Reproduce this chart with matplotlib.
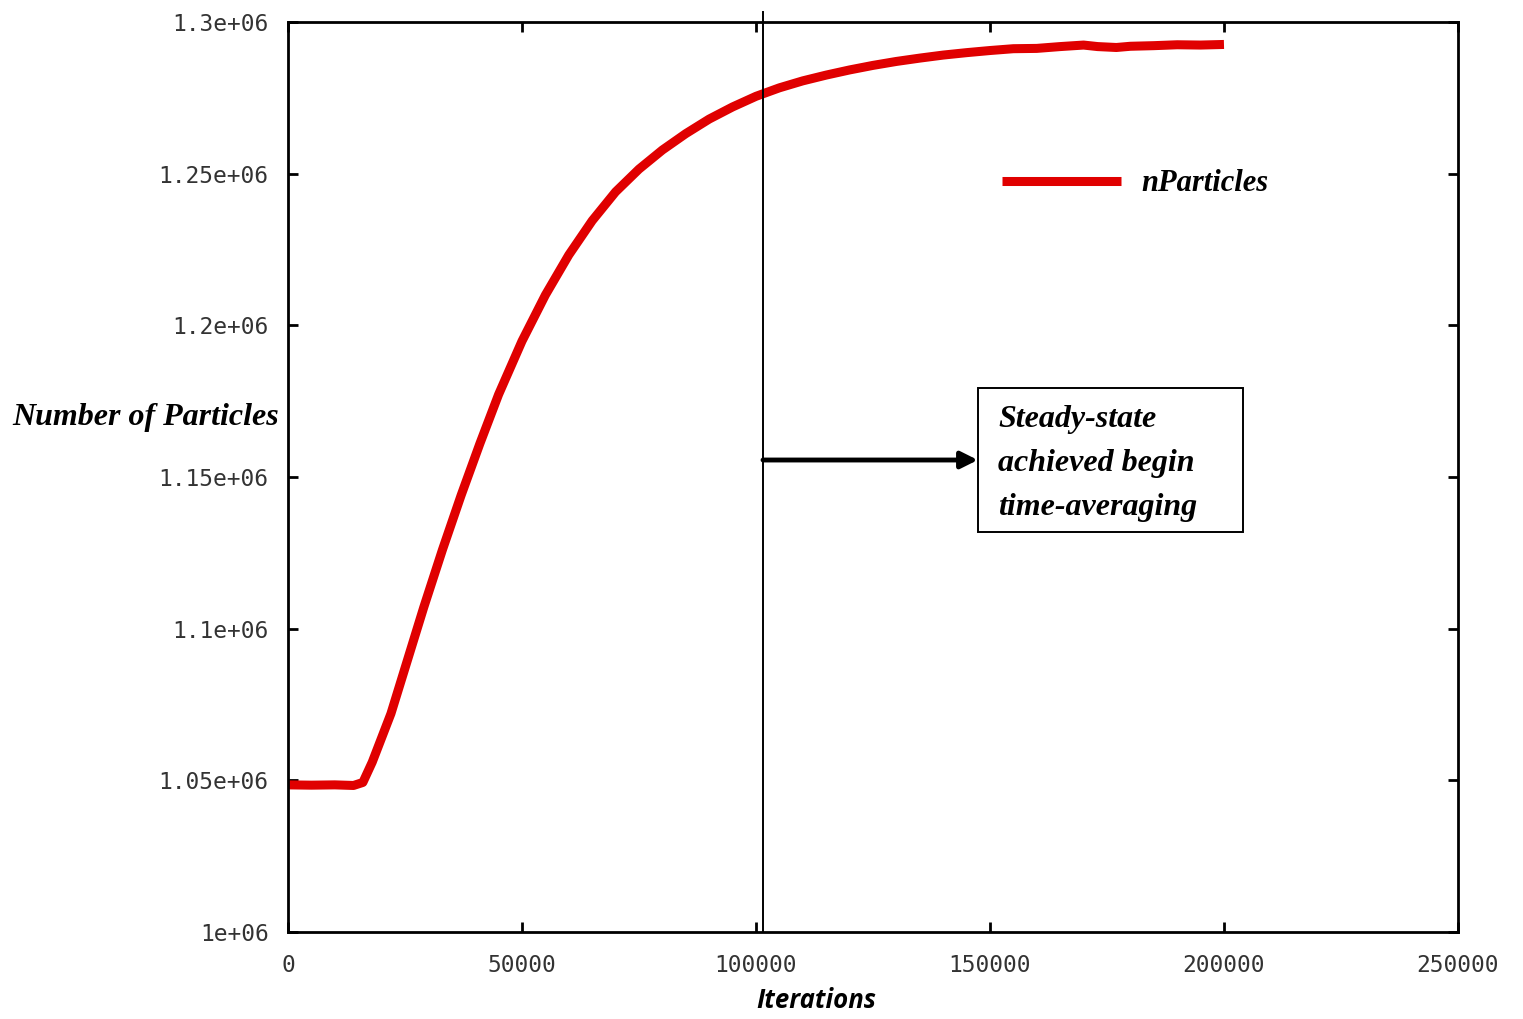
import matplotlib
matplotlib.use("Agg")
import matplotlib.pyplot as plt
from matplotlib.patches import Rectangle

iterations = [0, 5000, 10000, 14000, 16000, 18000, 20000, 22000, 25000, 29000,
              33000, 37000, 41000, 45000, 50000, 55000, 60000, 65000, 70000, 75000,
              80000, 85000, 90000, 95000, 100000, 105000, 110000, 115000, 120000,
              125000, 130000, 135000, 140000, 145000, 150000, 155000, 160000, 165000,
              170000, 173000, 177000, 180000, 185000, 190000, 195000, 200000]
n_particles = [1.0485e6, 1.0484e6, 1.0485e6, 1.0483e6, 1.0493e6, 1.0560e6, 1.0640e6,
               1.0720e6, 1.0870e6, 1.1070e6, 1.1260e6, 1.1440e6, 1.1610e6, 1.1772e6,
               1.1948e6, 1.2100e6, 1.2232e6, 1.2345e6, 1.2440e6, 1.2515e6, 1.2578e6,
               1.2632e6, 1.2680e6, 1.2720e6, 1.2755e6, 1.2783e6, 1.2806e6, 1.2825e6,
               1.2842e6, 1.2857e6, 1.2870e6, 1.2881e6, 1.2891e6, 1.2899e6, 1.2906e6,
               1.2912e6, 1.2913e6, 1.2919e6, 1.2924e6, 1.2919e6, 1.2916e6, 1.2920e6,
               1.2922e6, 1.2925e6, 1.2924e6, 1.2926e6]

x_ticks = [0, 50000, 100000, 150000, 200000, 250000]
y_ticks = [1.0e6, 1.05e6, 1.1e6, 1.15e6, 1.2e6, 1.25e6, 1.3e6]
y_tick_labels = ["1e+06", "1.05e+06", "1.1e+06", "1.15e+06", "1.2e+06", "1.25e+06", "1.3e+06"]
steady_x = 101500
note = "Steady-state\nachieved begin\ntime-averaging"

serif = "Liberation Serif"

fig = plt.figure(figsize=(15.23, 10.19), dpi=100)
ax = fig.add_axes([0.1891, 0.0854, 0.7682, 0.893])

ax.plot(iterations, n_particles, color="#e00000", linewidth=6.5, solid_capstyle="butt",
        solid_joinstyle="round", label="nParticles")
ax.set_xlim(0, 250000)
ax.set_ylim(1.0e6, 1.3e6)

ax.set_xticks(x_ticks)
ax.set_xticklabels([str(t) for t in x_ticks])
ax.set_yticks(y_ticks)
ax.set_yticklabels(y_tick_labels)
ax.tick_params(direction="in", length=7, width=2, top=True, right=True,
               labelsize=16.5, labelcolor="#333333", pad=14)
ax.tick_params(axis="x", pad=16)
for lbl in ax.get_xticklabels() + ax.get_yticklabels():
    lbl.set_family("DejaVu Sans Mono")
for sp in ax.spines.values():
    sp.set_linewidth(2)

# steady-state marker line, pokes a bit above the frame
ax.axvline(steady_x, ymin=0, ymax=1.011, color="black", linewidth=1.4, clip_on=False)

# note box and arrow
box_x0, box_x1 = 147400, 204100
box_y0, box_y1 = 1.1319e6, 1.1793e6
arrow_y = 1.1556e6
ax.add_patch(Rectangle((box_x0, box_y0), box_x1 - box_x0, box_y1 - box_y0,
                       facecolor="white", edgecolor="black", lw=1.4, zorder=3))
ax.annotate("", xy=(box_x0, arrow_y), xytext=(steady_x, arrow_y),
            arrowprops=dict(arrowstyle="-|>", color="black", lw=3.5, mutation_scale=25,
                            shrinkA=0, shrinkB=0), zorder=4)
ax.text(151700, arrow_y - 0.0012e6, note, family=serif, fontsize=23, fontweight="bold",
        style="italic", ha="left", va="center", linespacing=1.68, zorder=5)

ax.legend(loc="center left", bbox_to_anchor=(0.587, 0.822), frameon=False,
          handlelength=3.9, handletextpad=0.65,
          prop=dict(family=serif, size=22, weight="bold", style="italic"))

fig.text(0.008, 0.590, "Number of Particles", family=serif, fontsize=23,
         fontweight="bold", style="italic", ha="left", va="center")
fig.text(0.536, 0.018, "Iterations", family="Open Sans", fontsize=18.5,
         fontweight="bold", style="italic", ha="center", va="center")

fig.savefig("out.png", dpi=100)
